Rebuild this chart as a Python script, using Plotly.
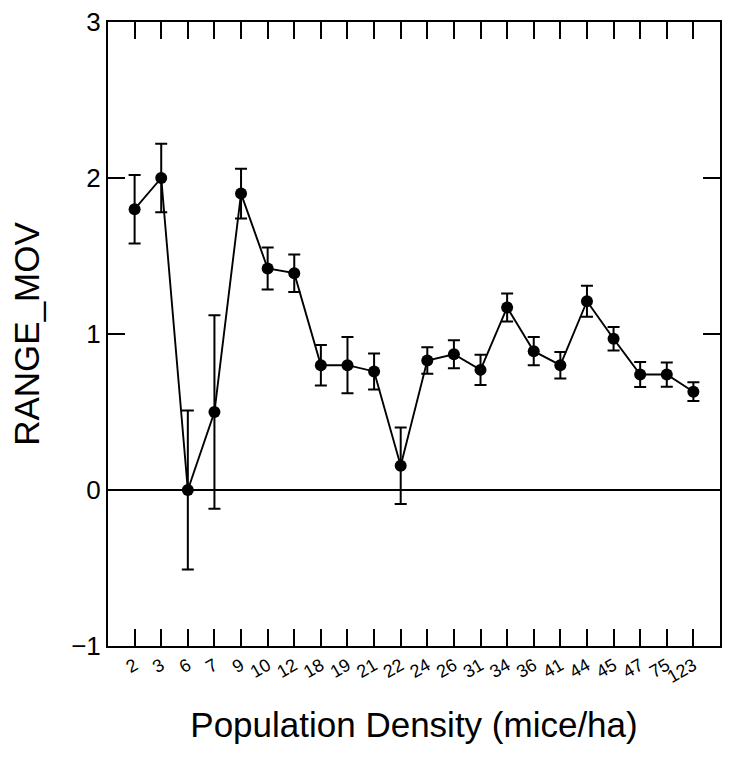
import plotly.graph_objects as go

categories = ["2", "3", "6", "7", "9", "10", "12", "18", "19", "21", "22",
              "24", "26", "31", "34", "36", "41", "44", "45", "47", "75", "123"]
means = [1.80, 2.00, 0.00, 0.50, 1.90, 1.42, 1.39, 0.80, 0.80, 0.76, 0.155,
         0.83, 0.87, 0.77, 1.17, 0.89, 0.80, 1.21, 0.97, 0.74, 0.74, 0.63]
errors = [0.22, 0.22, 0.51, 0.62, 0.16, 0.135, 0.12, 0.13, 0.18, 0.115, 0.245,
          0.085, 0.09, 0.097, 0.09, 0.09, 0.085, 0.10, 0.075, 0.08, 0.078, 0.06]
y_ticks = [-1, 0, 1, 2, 3]

FONT = "Liberation Sans, Arial, sans-serif"

fig = go.Figure()
fig.add_trace(go.Scatter(
    x=categories, y=means,
    mode="lines+markers",
    line=dict(color="black", width=1.9),
    marker=dict(color="black", size=12),
    error_y=dict(type="data", array=errors, visible=True,
                 color="black", thickness=2, width=6),
    showlegend=False,
))

fig.update_layout(
    width=729, height=759,
    margin=dict(l=108, r=7, t=20, b=113),
    paper_bgcolor="white", plot_bgcolor="white",
    font=dict(family=FONT, color="black"),
    xaxis=dict(
        type="category",
        range=[-1, len(categories)],
        showline=True, linecolor="black", linewidth=2, mirror="ticks",
        ticks="inside", ticklen=17, tickwidth=2, tickcolor="black",
        tickangle=-30,
        tickfont=dict(size=18, family=FONT),
        showgrid=False, zeroline=False,
        title=dict(text="Population Density (mice/ha)",
                   font=dict(size=35, family=FONT), standoff=27),
    ),
    yaxis=dict(
        range=[-1, 3],
        tickvals=y_ticks,
        showline=True, linecolor="black", linewidth=2, mirror="ticks",
        ticks="inside", ticklen=17, tickwidth=2, tickcolor="black",
        tickfont=dict(size=26, family=FONT),
        showgrid=False,
        zeroline=True, zerolinecolor="black", zerolinewidth=1.6,
        title=dict(text="RANGE_MOV", font=dict(size=35, family=FONT), standoff=21),
    ),
)

fig.write_html("out.html")
